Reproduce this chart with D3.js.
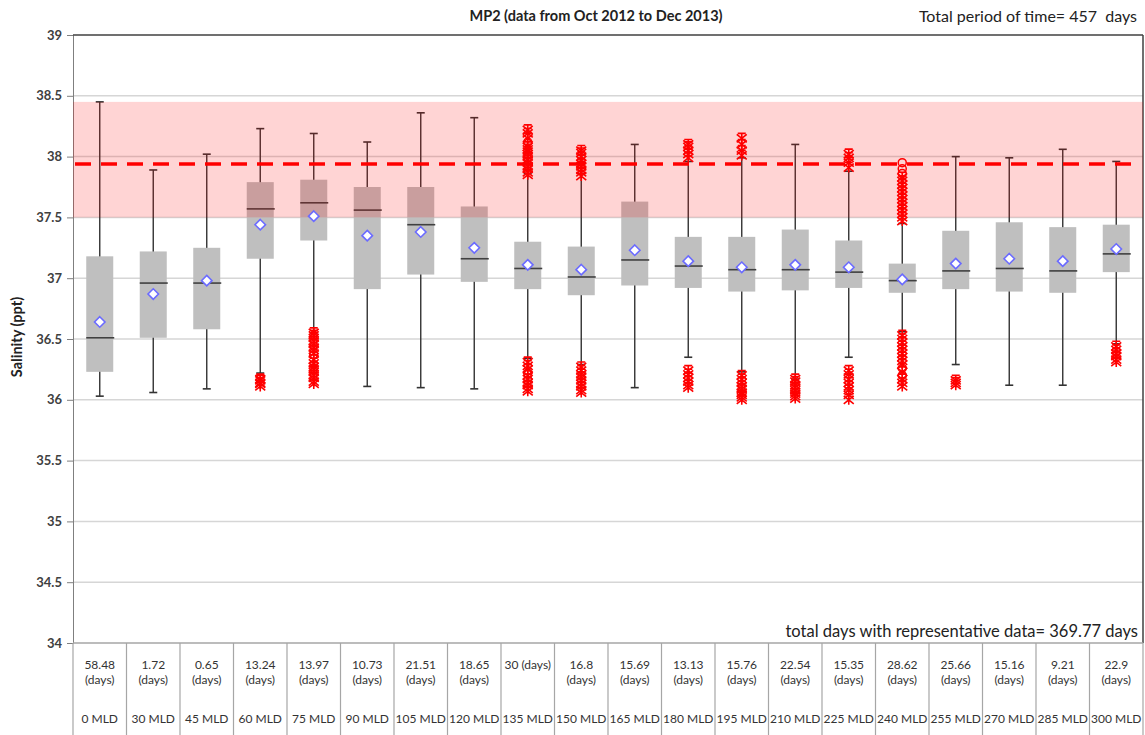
<!DOCTYPE html>
<html>
<head>
<meta charset="utf-8">
<script src="https://cdn.jsdelivr.net/npm/d3@7"></script>
<style>
  body { margin: 0; background: #fff; }
  svg { display: block; font-family: Lato, "Open Sans", sans-serif; }
</style>
</head>
<body>
<svg id="chart" width="1145" height="735"></svg>
<script>
const categories = ['0 MLD', '30 MLD', '45 MLD', '60 MLD', '75 MLD', '90 MLD', '105 MLD', '120 MLD', '135 MLD', '150 MLD',
  '165 MLD', '180 MLD', '195 MLD', '210 MLD', '225 MLD', '240 MLD', '255 MLD', '270 MLD', '285 MLD', '300 MLD'];
const daysLabels = ['58.48', '1.72', '0.65', '13.24', '13.97', '10.73', '21.51', '18.65', '30', '16.8',
  '15.69', '13.13', '15.76', '22.54', '15.35', '28.62', '25.66', '15.16', '9.21', '22.9'];

const whiskerLow  = [36.03, 36.06, 36.09, 36.22, 36.55, 36.11, 36.10, 36.09, 36.34, 36.29, 36.10, 36.35, 36.23, 36.17, 36.35, 36.56, 36.29, 36.12, 36.12, 36.46];
const q1          = [36.23, 36.51, 36.58, 37.16, 37.31, 36.91, 37.03, 36.97, 36.91, 36.86, 36.94, 36.92, 36.89, 36.90, 36.92, 36.88, 36.91, 36.89, 36.88, 37.05];
const median      = [36.51, 36.96, 36.96, 37.57, 37.62, 37.56, 37.44, 37.16, 37.08, 37.01, 37.15, 37.10, 37.07, 37.07, 37.05, 36.98, 37.06, 37.08, 37.06, 37.20];
const q3          = [37.18, 37.22, 37.25, 37.79, 37.81, 37.75, 37.75, 37.59, 37.30, 37.26, 37.63, 37.34, 37.34, 37.40, 37.31, 37.12, 37.39, 37.46, 37.42, 37.44];
const whiskerHigh = [38.45, 37.89, 38.02, 38.23, 38.19, 38.12, 38.36, 38.32, 37.86, 37.86, 38.10, 37.96, 37.99, 38.10, 37.88, 37.45, 38.00, 37.99, 38.06, 37.96];
const means       = [36.64, 36.87, 36.98, 37.44, 37.51, 37.35, 37.38, 37.25, 37.11, 37.07, 37.23, 37.14, 37.09, 37.11, 37.09, 36.99, 37.12, 37.16, 37.14, 37.24];

// outliers (asterisks)
const outliers = [
  [], [], [],
  [36.11, 36.13, 36.14, 36.16, 36.17],
  [36.13, 36.15, 36.18, 36.2, 36.23, 36.25, 36.27, 36.3, 36.33, 36.38, 36.41, 36.43, 36.46, 36.48, 36.51, 36.53, 36.55],
  [], [], [],
  [37.85, 37.87, 37.9, 37.92, 37.95, 37.97, 38.0, 38.02, 38.04, 38.06, 38.08, 38.15, 38.19, 38.22,
   36.07, 36.09, 36.12, 36.14, 36.17, 36.2, 36.25, 36.28, 36.31],
  [37.84, 37.87, 37.89, 37.92, 37.94, 37.97, 38.0, 38.03, 38.05,
   36.06, 36.08, 36.11, 36.13, 36.16, 36.19, 36.21, 36.24, 36.27],
  [],
  [37.99, 38.02, 38.05, 38.08, 38.1, 36.1, 36.12, 36.15, 36.18, 36.21, 36.24],
  [38.01, 38.05, 38.1, 38.15, 36.0, 36.02, 36.04, 36.06, 36.09, 36.11, 36.14, 36.17, 36.2],
  [36.01, 36.03, 36.05, 36.08, 36.1, 36.12, 36.15, 36.17],
  [37.91, 37.95, 37.99, 38.02, 36.0, 36.04, 36.08, 36.11, 36.14, 36.17, 36.21, 36.24],
  [37.47, 37.5, 37.53, 37.56, 37.59, 37.62, 37.65, 37.68, 37.71, 37.74, 37.77, 37.8, 37.83,
   36.11, 36.14, 36.17, 36.23, 36.29, 36.32, 36.35, 36.38, 36.41, 36.44, 36.47, 36.5, 36.53],
  [36.12, 36.14, 36.16],
  [], [],
  [36.31, 36.33, 36.36, 36.38, 36.41, 36.44]
];
// extreme values drawn as open circles
const extremes = [
  [], [], [], [], [36.37], [], [], [], [38.12, 36.22], [], [], [], [], [], [],
  [37.95, 37.9, 37.86, 36.26, 36.2], [], [], [], []
];

const yTicks = [34, 34.5, 35, 35.5, 36, 36.5, 37, 37.5, 38, 38.5, 39];
const bandLow = 37.5, bandHigh = 38.45, threshold = 37.94;

const svg = d3.select('#chart');
const plotLeft = 73, plotRight = 1143, plotTop = 35, plotBottom = 643;

const x = d3.scaleBand().domain(categories).range([plotLeft, plotRight]).paddingInner(0).paddingOuter(0);
const y = d3.scaleLinear().domain([34, 39]).range([plotBottom, plotTop]);
const cx = i => x(categories[i]) + x.bandwidth() / 2;
const boxW = 27;

// gridlines
svg.append('g').selectAll('line')
  .data(yTicks.filter(t => t > 34 && t < 39))
  .enter().append('line')
  .attr('x1', plotLeft).attr('x2', plotRight)
  .attr('y1', d => y(d)).attr('y2', d => y(d))
  .attr('stroke', '#d6d6d6').attr('stroke-width', 1.5);

// y axis
const yAxis = d3.axisLeft(y).tickValues(yTicks).tickSize(6).tickPadding(5).tickFormat(d3.format('~g'));
const ga = svg.append('g').attr('transform', `translate(${plotLeft},0)`).call(yAxis);
ga.select('.domain').attr('stroke', '#7f7f7f');
ga.selectAll('.tick line').attr('stroke', '#7f7f7f');
ga.selectAll('.tick text').attr('font-size', 13).attr('font-weight', 'bold').attr('fill', '#404040')
  .attr('font-family', 'Lato, "Open Sans", sans-serif');

// frame
svg.append('line').attr('x1', plotLeft).attr('x2', plotRight).attr('y1', plotTop).attr('y2', plotTop)
  .attr('stroke', '#404040').attr('stroke-width', 1.5);
svg.append('line').attr('x1', plotRight).attr('x2', plotRight).attr('y1', plotTop).attr('y2', plotBottom)
  .attr('stroke', '#404040').attr('stroke-width', 1.5);

// boxes
const idx = d3.range(categories.length);
const boxes = svg.append('g');
boxes.selectAll('.whisker').data(idx).enter().append('line')
  .attr('x1', cx).attr('x2', cx)
  .attr('y1', i => y(whiskerLow[i])).attr('y2', i => y(whiskerHigh[i]))
  .attr('stroke', '#333').attr('stroke-width', 1.4);
boxes.selectAll('.cap-hi').data(idx).enter().append('line')
  .attr('x1', i => cx(i) - 4).attr('x2', i => cx(i) + 4)
  .attr('y1', i => y(whiskerHigh[i])).attr('y2', i => y(whiskerHigh[i]))
  .attr('stroke', '#333').attr('stroke-width', 1.6);
boxes.selectAll('.cap-lo').data(idx).enter().append('line')
  .attr('x1', i => cx(i) - 4).attr('x2', i => cx(i) + 4)
  .attr('y1', i => y(whiskerLow[i])).attr('y2', i => y(whiskerLow[i]))
  .attr('stroke', '#333').attr('stroke-width', 1.6);
boxes.selectAll('.box').data(idx).enter().append('rect')
  .attr('x', i => cx(i) - boxW / 2).attr('width', boxW)
  .attr('y', i => y(q3[i])).attr('height', i => y(q1[i]) - y(q3[i]))
  .attr('fill', '#bfbfbf');
boxes.selectAll('.median').data(idx).enter().append('line')
  .attr('x1', i => cx(i) - boxW / 2).attr('x2', i => cx(i) + boxW / 2 + 1)
  .attr('y1', i => y(median[i])).attr('y2', i => y(median[i]))
  .attr('stroke', '#404040').attr('stroke-width', 1.6);

// pink band over everything
svg.append('rect')
  .attr('x', plotLeft).attr('width', plotRight - plotLeft)
  .attr('y', y(bandHigh)).attr('height', y(bandLow) - y(bandHigh))
  .attr('fill', '#ff0000').attr('opacity', 0.17);

// outliers
const star = d3.path();
star.moveTo(0, -5); star.lineTo(0, 5);
star.moveTo(-5, -4); star.lineTo(5, 4);
star.moveTo(-5, 4); star.lineTo(5, -4);
star.moveTo(-4, -5); star.lineTo(4, -5);
const starPath = star.toString();
const pts = [];
outliers.forEach((arr, i) => arr.forEach(v => pts.push([i, v])));
svg.append('g').selectAll('path').data(pts).enter().append('path')
  .attr('d', starPath)
  .attr('transform', d => `translate(${cx(d[0])},${y(d[1])})`)
  .attr('fill', 'none').attr('stroke', '#ff0000').attr('stroke-width', 1.6);
const ext = [];
extremes.forEach((arr, i) => arr.forEach(v => ext.push([i, v])));
svg.append('g').selectAll('circle').data(ext).enter().append('circle')
  .attr('cx', d => cx(d[0])).attr('cy', d => y(d[1])).attr('r', 4)
  .attr('fill', 'none').attr('stroke', '#ff0000').attr('stroke-width', 1.5);

// means
svg.append('g').selectAll('path').data(idx).enter().append('path')
  .attr('d', d3.symbol(d3.symbolDiamond2, 70)())
  .attr('transform', i => `translate(${cx(i)},${y(means[i])})`)
  .attr('fill', '#fff').attr('stroke', '#6b6bff').attr('stroke-width', 1.6);

// threshold dashed line
svg.append('line').attr('x1', plotLeft + 2).attr('x2', plotRight - 2)
  .attr('y1', y(threshold)).attr('y2', y(threshold))
  .attr('stroke', '#ff0000').attr('stroke-width', 3.5).attr('stroke-dasharray', '16,10');

// data table
const tbl = svg.append('g');
tbl.append('line').attr('x1', plotLeft).attr('x2', plotRight).attr('y1', plotBottom).attr('y2', plotBottom)
  .attr('stroke', '#a6a6a6').attr('stroke-width', 1.5);
tbl.selectAll('.col').data(d3.range(categories.length + 1)).enter().append('line')
  .attr('x1', k => plotLeft + k * x.bandwidth()).attr('x2', k => plotLeft + k * x.bandwidth())
  .attr('y1', plotBottom).attr('y2', 735)
  .attr('stroke', '#a6a6a6').attr('stroke-width', 1.2);
tbl.selectAll('.days').data(idx).enter().append('text')
  .attr('x', cx).attr('y', 669).attr('text-anchor', 'middle')
  .attr('font-size', 12).attr('fill', '#333')
  .text(i => daysLabels[i] === '30' ? '30 (days)' : daysLabels[i]);
tbl.selectAll('.daysu').data(idx.filter(i => daysLabels[i] !== '30')).enter().append('text')
  .attr('x', cx).attr('y', 684).attr('text-anchor', 'middle')
  .attr('font-size', 12).attr('fill', '#333').text('(days)');
tbl.selectAll('.cat').data(idx).enter().append('text')
  .attr('x', cx).attr('y', 723).attr('text-anchor', 'middle')
  .attr('font-size', 12).attr('fill', '#333').text(i => categories[i]);

// titles
svg.append('text').attr('x', 596).attr('y', 21).attr('text-anchor', 'middle')
  .attr('font-size', 14.5).attr('font-weight', 'bold').attr('fill', '#222')
  .text('MP2 (data from Oct 2012 to Dec 2013)');
svg.append('text').attr('x', 1137).attr('y', 22).attr('text-anchor', 'end')
  .attr('font-size', 16).attr('fill', '#222').style('white-space', 'pre')
  .text('Total period of time= 457  days');
svg.append('text').attr('x', 1138).attr('y', 637).attr('text-anchor', 'end')
  .attr('font-size', 16.5).attr('fill', '#222')
  .text('total days with representative data= 369.77 days');
svg.append('text')
  .attr('transform', 'translate(22,337) rotate(-90)')
  .attr('text-anchor', 'middle').attr('font-size', 14.5).attr('font-weight', 'bold').attr('fill', '#222')
  .text('Salinity (ppt)');
</script>
</body>
</html>
